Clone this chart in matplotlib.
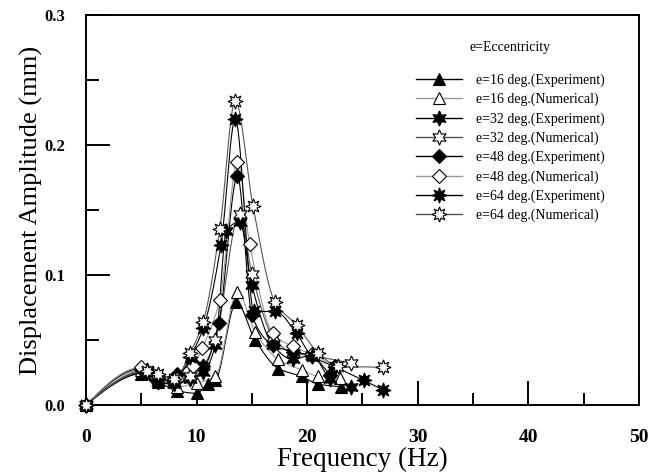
import numpy as np
import matplotlib
matplotlib.use('Agg')
import matplotlib.pyplot as plt
from matplotlib.ticker import MultipleLocator, FormatStrFormatter

# values (frequency in Hz, amplitude in mm)
f16_exp = [0, 5.0, 6.5, 8.2, 10.0, 11.0, 11.7, 13.6, 15.3, 17.4, 19.5, 21.0, 23.1]
a16_exp = [0, 0.024, 0.018, 0.011, 0.009, 0.016, 0.019, 0.079, 0.050, 0.028, 0.022, 0.016, 0.014]
f16_num = [0, 5.0, 6.5, 8.2, 10.0, 11.7, 13.7, 15.3, 17.4, 19.5, 21.0, 23.0]
a16_num = [0, 0.027, 0.020, 0.014, 0.017, 0.022, 0.087, 0.056, 0.035, 0.027, 0.022, 0.021]

f32_exp = [0, 5.5, 6.5, 8.0, 9.4, 10.6, 11.7, 12.7, 13.9, 15.0, 16.9, 18.7, 20.4, 22.1, 24.0]
a32_exp = [0, 0.026, 0.018, 0.016, 0.020, 0.025, 0.046, 0.134, 0.141, 0.092, 0.046, 0.035, 0.0385, 0.020, 0.0135]
f32_num = [0, 5.5, 6.5, 8.0, 9.4, 10.6, 11.7, 13.9, 15.0, 16.9, 18.7, 20.4, 24.0]
a32_num = [0, 0.027, 0.020, 0.018, 0.022, 0.030, 0.050, 0.147, 0.101, 0.0525, 0.040, 0.038, 0.032]

f48_exp = [0, 5.0, 6.2, 8.2, 9.7, 10.6, 12.0, 13.7, 15.0, 16.9, 18.7, 20.4, 22.1]
a48_exp = [0, 0.028, 0.020, 0.024, 0.032, 0.030, 0.063, 0.176, 0.069, 0.046, 0.041, 0.038, 0.023]
f48_num = [0, 5.0, 6.2, 8.2, 9.7, 10.5, 12.1, 13.7, 14.8, 16.9, 18.7, 20.4, 22.5]
a48_num = [0, 0.029, 0.022, 0.020, 0.030, 0.0435, 0.081, 0.187, 0.124, 0.055, 0.045, 0.039, 0.030]

f64_exp = [0, 5.5, 6.5, 8.0, 9.4, 10.6, 12.2, 13.5, 15.2, 17.1, 19.05, 20.4, 22.5, 25.1, 26.9]
a64_exp = [0, 0.025, 0.020, 0.018, 0.037, 0.059, 0.123, 0.220, 0.072, 0.072, 0.055, 0.038, 0.0295, 0.019, 0.0115]
f64_num = [0, 5.5, 6.5, 8.0, 9.4, 10.6, 12.1, 13.5, 15.1, 17.1, 19.05, 21.0, 22.8, 26.9]
a64_num = [0, 0.026, 0.024, 0.020, 0.040, 0.064, 0.135, 0.234, 0.153, 0.079, 0.0615, 0.040, 0.030, 0.029]

labels = ['e=16 deg.(Experiment)', 'e=16 deg.(Numerical)',
          'e=32 deg.(Experiment)', 'e=32 deg.(Numerical)',
          'e=48 deg.(Experiment)', 'e=48 deg.(Numerical)',
          'e=64 deg.(Experiment)', 'e=64 deg.(Numerical)']


def smooth(x, y, n=400):
    # shape preserving cubic (pchip) so the line passes through every point
    x = np.asarray(x, float); y = np.asarray(y, float)
    h = np.diff(x); d = np.diff(y) / h
    m = np.zeros(len(x))
    for k in range(1, len(x) - 1):
        if d[k-1] * d[k] > 0:
            w1 = 2*h[k] + h[k-1]; w2 = h[k] + 2*h[k-1]
            m[k] = (w1 + w2) / (w1/d[k-1] + w2/d[k])
    m[0] = 1.5*d[0]; m[-1] = d[-1]
    xs = np.linspace(x[0], x[-1], n)
    i = np.clip(np.searchsorted(x, xs) - 1, 0, len(x) - 2)
    t = (xs - x[i]) / h[i]
    h00 = 2*t**3 - 3*t**2 + 1; h10 = t**3 - 2*t**2 + t
    h01 = -2*t**3 + 3*t**2; h11 = t**3 - t**2
    ys = h00*y[i] + h10*h[i]*m[i] + h01*y[i+1] + h11*h[i]*m[i+1]
    return xs, ys


plt.rcParams['font.family'] = 'Liberation Serif'
fig = plt.figure(figsize=(6.63, 4.74), dpi=100)
ax = fig.add_axes([0.1297, 0.1456, 0.834, 0.8228])

series = [
    (f16_exp, a16_exp, '^', 'black', 'black', 8),
    (f16_num, a16_num, '^', 'white', '#999999', 8),
    (f32_exp, a32_exp, (6, 1, 0), 'black', 'black', 11),
    (f32_num, a32_num, (6, 1, 0), 'white', '#555555', 11),
    (f48_exp, a48_exp, 'D', 'black', 'black', 7.5),
    (f48_num, a48_num, 'D', 'white', '#999999', 7.5),
    (f64_exp, a64_exp, (8, 1, 0), 'black', 'black', 11),
    (f64_num, a64_num, (8, 1, 0), 'white', '#555555', 11),
]

for (fx, ay, mk, fc, lc, ms), lab in zip(series, labels):
    xs, ys = smooth(fx, ay)
    ax.plot(xs, ys, color=lc, lw=0.8, zorder=2)
    ax.plot(fx, ay, linestyle='none', marker=mk, markerfacecolor=fc,
            markeredgecolor='black', markeredgewidth=0.8, markersize=ms,
            clip_on=False, zorder=3)
    # proxy for the legend
    ax.plot([], [], color=lc, lw=1.0, marker=mk, markerfacecolor=fc,
            markeredgecolor='black', markeredgewidth=0.8, markersize=ms, label=lab)

ax.set_xlim(0, 50)
ax.set_ylim(0, 0.3)
ax.xaxis.set_major_locator(MultipleLocator(10))
ax.xaxis.set_minor_locator(MultipleLocator(5))
ax.yaxis.set_major_locator(MultipleLocator(0.1))
ax.yaxis.set_minor_locator(MultipleLocator(0.05))
ax.yaxis.set_major_formatter(FormatStrFormatter('%.1f'))
ax.tick_params(which='major', direction='in', length=17, width=1.4)
ax.tick_params(which='minor', direction='in', length=9, width=1.4)
ax.tick_params(axis='x', which='major', pad=17, labelsize=14)
ax.tick_params(axis='y', which='major', pad=15, labelsize=12)
for lab in ax.get_xticklabels() + ax.get_yticklabels():
    lab.set_fontweight('bold')
for sp in ax.spines.values():
    sp.set_linewidth(1.4)

ax.set_xlabel('Frequency (Hz)', fontsize=19.5, labelpad=1)
ax.set_ylabel('Displacement Amplitude (mm)', fontsize=19, labelpad=1)

fig.text(470 / 663, 1 - 47 / 474, 'e=Eccentricity', fontsize=10,
         va='center', ha='left')
leg = ax.legend(loc='upper left', bbox_to_anchor=(0.597, 0.85), frameon=False,
                fontsize=10, handlelength=3.3, handletextpad=1.0,
                labelspacing=0.42, numpoints=1, borderpad=0, borderaxespad=0)

fig.savefig('out.png', dpi=100)
